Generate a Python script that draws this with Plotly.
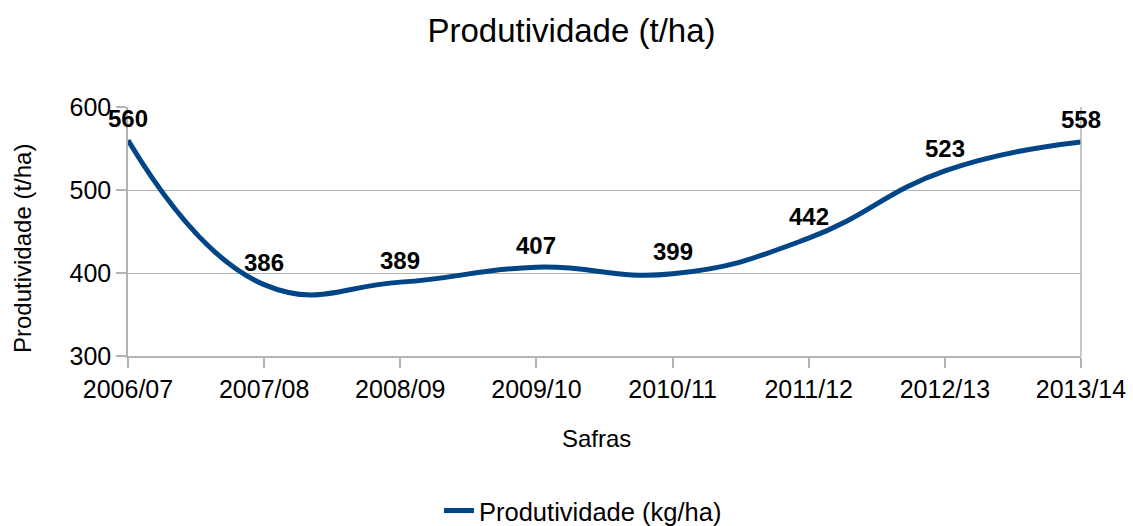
import plotly.graph_objects as go

categories = ["2006/07", "2007/08", "2008/09", "2009/10", "2010/11", "2011/12", "2012/13", "2013/14"]
values = [560, 386, 389, 407, 399, 442, 523, 558]
series_name = "Produtividade (kg/ha)"
title_text = "Produtividade (t/ha)"
y_title = "Produtividade (t/ha)"
x_title = "Safras"

FONT = "Liberation Sans, Arial, sans-serif"
GRID = "#b3b3b3"
W, H = 1133, 526
pl, pr, pt, pb = 128, 1081, 107, 356


def px_x(x):
    return (x - pl) / (pr - pl)


def px_y(y):
    return (pb - y) / (pb - pt)


fig = go.Figure()
fig.add_trace(go.Scatter(
    x=categories, y=values, name=series_name,
    mode="lines",
    line=dict(color="#004586", width=5, shape="spline", smoothing=1.3),
    cliponaxis=False,
    hoverinfo="skip",
))

label_annotations = [
    dict(x=c, y=v, xref="x", yref="y", text=f"<b>{v}</b>", showarrow=False,
         xanchor="center", yanchor="middle", yshift=22,
         font=dict(family=FONT, size=24, color="black"))
    for c, v in zip(categories, values)
]

fig.update_layout(
    width=W, height=H,
    margin=dict(l=pl, r=W - pr, t=pt, b=H - pb, autoexpand=False),
    paper_bgcolor="white", plot_bgcolor="white",
    font=dict(family=FONT, color="black"),
    title=dict(text=title_text, x=571.5 / W, xref="container", xanchor="center",
               y=1 - 30 / H, yref="container", yanchor="middle",
               font=dict(size=33, family=FONT, color="black")),
    showlegend=True,
    legend=dict(orientation="h", x=583 / W, xref="container", xanchor="center",
                y=1 - 511 / H, yref="container", yanchor="middle",
                font=dict(size=25.5, family=FONT, color="black")),
    xaxis=dict(type="category", range=[0, 7], showgrid=False, automargin=False,
               showline=True, linecolor=GRID, linewidth=1.5,
               ticks="outside", ticklen=10, tickcolor=GRID, tickwidth=1.5,
               tickfont=dict(size=25, family=FONT, color="black"),
               zeroline=False),
    yaxis=dict(range=[300, 600], dtick=100, showgrid=True, gridcolor=GRID, gridwidth=1,
               automargin=False,
               showline=True, linecolor=GRID, linewidth=1.5,
               ticks="outside", ticklen=10, tickcolor=GRID, tickwidth=1.5,
               tickfont=dict(size=25, family=FONT, color="black"),
               zeroline=False),
    annotations=label_annotations + [
        dict(text=y_title, textangle=-90, x=px_x(22), xref="paper", y=px_y(249), yref="paper",
             xanchor="center", yanchor="middle",
             showarrow=False, font=dict(size=24, family=FONT, color="black")),
        dict(text=x_title, x=px_x(596), xref="paper", y=px_y(438), yref="paper",
             xanchor="center", yanchor="middle", showarrow=False,
             font=dict(size=24, family=FONT, color="black")),
    ],
)

fig.add_shape(type="line", xref="paper", yref="paper", x0=1, x1=1, y0=0, y1=1,
              line=dict(color=GRID, width=1.5))

fig.write_html("out.html", config={"displayModeBar": False},
               post_script="document.body.style.margin='0';document.body.style.overflow='hidden';")
